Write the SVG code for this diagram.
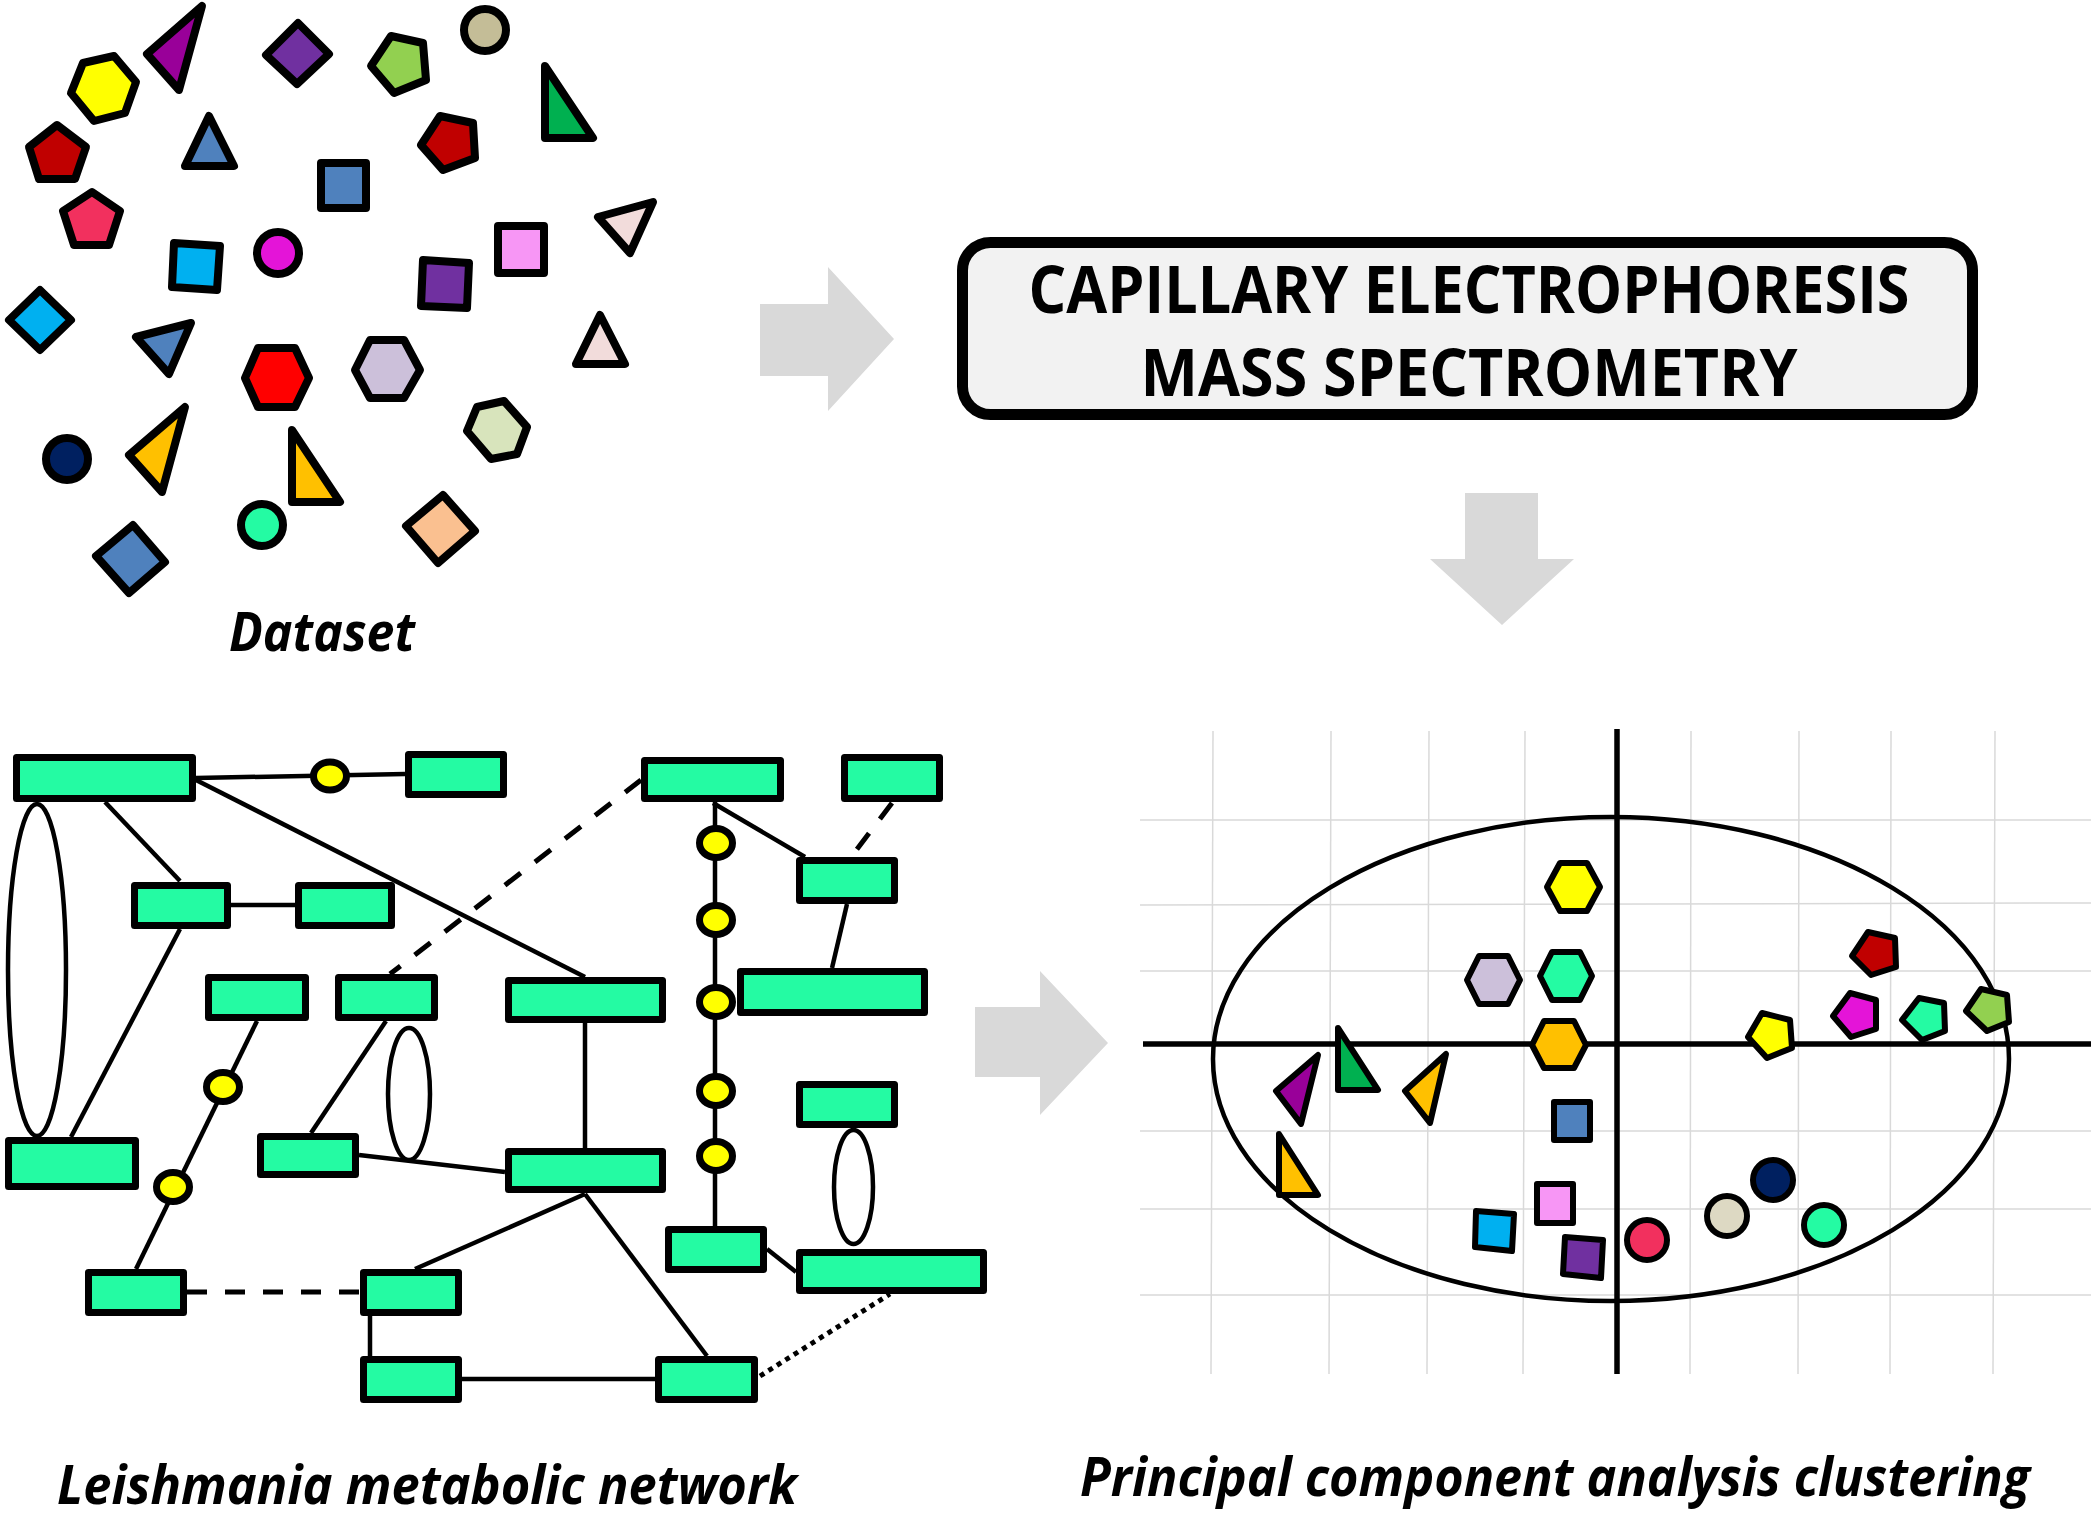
<svg xmlns="http://www.w3.org/2000/svg" width="2091" height="1520" viewBox="0 0 2091 1520">
<style>
.s{stroke:#000;stroke-width:8;stroke-linejoin:round}
.p{stroke:#000;stroke-width:6;stroke-linejoin:round}
.box{fill:#24FBA3;stroke:#000;stroke-width:7;stroke-linejoin:round}
.met{fill:#FFFF00;stroke:#000;stroke-width:7}
.ln{stroke:#000;stroke-width:4.5;fill:none}
.dash{stroke-dasharray:20 18;stroke-width:5}
.dot{stroke-dasharray:5 5;stroke-width:5}
.grid{stroke:#D9D9D9;stroke-width:1.5;fill:none}
.axis{stroke:#000;stroke-width:5.5;fill:none}
.arrow{fill:#D9D9D9}
.lbl{font-family:"Open Sans","Liberation Sans",sans-serif;font-weight:bold;font-style:italic;font-size:53px;fill:#000}
.ce{font-family:"Open Sans","Liberation Sans",sans-serif;font-weight:bold;font-size:67px;fill:#000;text-anchor:middle}
</style>
<rect width="2091" height="1520" fill="#fff"/>

<!-- Dataset -->
<g id="dataset">
<polygon class="s" fill="#FFFF00" points="83,63 114,56 136,82 125,113 94,121 71,93"/>
<polygon class="s" fill="#990099" points="147,54 202,6 179,90"/>
<polygon class="s" fill="#C00000" points="29,147 57,125 86,147 75,179 39,179"/>
<polygon class="s" fill="#4F81BD" points="209,116 234,166 185,166"/>
<polygon class="s" fill="#7030A0" points="298,23 329,54 297,84 266,55"/>
<polygon class="s" fill="#92D050" points="391,36 423,43 426,80 394,93 371,66"/>
<circle class="s" fill="#C4BD97" cx="485" cy="30" r="21"/>
<polygon class="s" fill="#00B050" points="545,66 593,138 545,138"/>
<polygon class="s" fill="#C00000" points="440,116 473,123 475,158 443,170 421,145"/>
<rect class="s" fill="#4F81BD" x="321" y="163" width="45" height="45"/>
<polygon class="s" fill="#F2305E" points="92,192 120,211 109,245 74,245 63,211"/>
<polygon class="s" fill="#00B0F0" points="174,243 220,246 217,290 172,287"/>
<circle class="s" fill="#E414D8" cx="278" cy="253" r="21"/>
<polygon class="s" fill="#7030A0" points="423,260 469,263 467,308 421,306"/>
<rect class="s" fill="#F796F5" x="498" y="226" width="46" height="47"/>
<polygon class="s" fill="#F2DCDB" points="598,217 653,202 630,253"/>
<polygon class="s" fill="#00B0F0" points="40,290 71,320 40,350 9,320"/>
<polygon class="s" fill="#4F81BD" points="136,337 191,323 169,374"/>
<polygon class="s" fill="#FF0000" points="258,348 295,348 309,378 295,407 258,407 245,378"/>
<polygon class="s" fill="#CCC0DA" points="370,340 404,340 420,370 404,398 370,398 355,370"/>
<polygon class="s" fill="#F2DCDB" points="600,315 625,364 576,364"/>
<polygon class="s" fill="#D8E4BC" points="477,407 504,401 527,427 517,454 491,459 467,431"/>
<circle class="s" fill="#002060" cx="67" cy="459" r="21"/>
<polygon class="s" fill="#FFC000" points="129,455 185,407 162,492"/>
<polygon class="s" fill="#FFC000" points="292,430 340,502 292,502"/>
<circle class="s" fill="#24FBA3" cx="262" cy="525" r="21"/>
<polygon class="s" fill="#FAC090" points="443,495 475,531 438,563 406,526"/>
<polygon class="s" fill="#4F81BD" points="133,525 165,562 129,593 96,556"/>
<text class="lbl" x="229" y="651" textLength="186" lengthAdjust="spacingAndGlyphs">Dataset</text>
</g>

<!-- Process arrows -->
<g id="arrows">
<polygon class="arrow" points="760,304 828,304 828,267 894,339 828,411 828,376 760,376"/>
<polygon class="arrow" points="1465,493 1538,493 1538,559 1574,559 1502,625 1430,559 1465,559"/>
<polygon class="arrow" points="975,1007 1040,1007 1040,971 1108,1043 1040,1115 1040,1077 975,1077"/>
</g>

<!-- CE-MS box -->
<g id="cems">
<rect x="962.5" y="242.5" width="1010" height="172" rx="28" ry="28" fill="#F2F2F2" stroke="#000" stroke-width="11"/>
<text class="ce" x="1469" y="313" textLength="881" lengthAdjust="spacingAndGlyphs">CAPILLARY ELECTROPHORESIS</text>
<text class="ce" x="1469" y="396" textLength="657" lengthAdjust="spacingAndGlyphs">MASS SPECTROMETRY</text>
</g>

<!-- Network connectors -->
<g id="connectors">
<ellipse class="ln" cx="37" cy="970" rx="29" ry="166"/>
<ellipse class="ln" cx="409" cy="1094" rx="21" ry="66"/>
<ellipse class="ln" cx="853.5" cy="1187" rx="19.5" ry="57"/>
<line class="ln" x1="196" y1="778" x2="405" y2="774"/>
<line class="ln" x1="105" y1="802" x2="180" y2="881"/>
<line class="ln" x1="196" y1="780" x2="585" y2="977"/>
<line class="ln" x1="231" y1="905" x2="295" y2="905"/>
<line class="ln" x1="180" y1="929" x2="71" y2="1137"/>
<line class="ln dash" x1="641" y1="780" x2="390" y2="974"/>
<line class="ln" x1="715" y1="802" x2="715" y2="1226"/>
<line class="ln" x1="713" y1="803" x2="805" y2="857"/>
<line class="ln dash" x1="892" y1="803" x2="851" y2="857"/>
<line class="ln" x1="847" y1="904" x2="832" y2="968"/>
<line class="ln" x1="257" y1="1021" x2="136" y2="1269"/>
<line class="ln" x1="386" y1="1021" x2="311" y2="1133"/>
<line class="ln" x1="359" y1="1155" x2="505" y2="1172"/>
<line class="ln" x1="585" y1="1023" x2="585" y2="1148"/>
<line class="ln" x1="585" y1="1194" x2="415" y2="1269"/>
<line class="ln" x1="585" y1="1194" x2="707" y2="1356"/>
<line class="ln dash" x1="187" y1="1292" x2="360" y2="1292"/>
<line class="ln" x1="370" y1="1316" x2="370" y2="1356"/>
<line class="ln" x1="462" y1="1379" x2="655" y2="1379"/>
<line class="ln dot" x1="760" y1="1376" x2="890" y2="1294"/>
<line class="ln" x1="767" y1="1249" x2="796" y2="1272"/>
</g>

<!-- Network nodes -->
<g id="network">
<rect id="b1" class="box" x="16.5" y="757.5" width="176" height="41"/>
<rect id="b2" class="box" x="408.5" y="754.5" width="95" height="40"/>
<rect id="b3" class="box" x="644.5" y="760.5" width="136" height="38"/>
<rect id="b4" class="box" x="844.5" y="757.5" width="95" height="41"/>
<rect id="b5" class="box" x="134.5" y="885.5" width="93" height="40"/>
<rect id="b6" class="box" x="298.5" y="885.5" width="93" height="40"/>
<rect id="b7" class="box" x="799.5" y="860.5" width="95" height="40"/>
<rect id="b8" class="box" x="208.5" y="977.5" width="97" height="40"/>
<rect id="b9" class="box" x="338.5" y="977.5" width="96" height="40"/>
<rect id="b10" class="box" x="508.5" y="980.5" width="154" height="39"/>
<rect id="b11" class="box" x="740.5" y="971.5" width="184" height="41"/>
<rect id="b12" class="box" x="8.5" y="1140.5" width="127" height="46"/>
<rect id="b13" class="box" x="260.5" y="1136.5" width="95" height="38"/>
<rect id="b14" class="box" x="508.5" y="1151.5" width="154" height="38"/>
<rect id="b15" class="box" x="799.5" y="1084.5" width="95" height="40"/>
<rect id="b16" class="box" x="668.5" y="1229.5" width="95" height="40"/>
<rect id="b17" class="box" x="799.5" y="1252.5" width="184" height="38"/>
<rect id="b18" class="box" x="88.5" y="1272.5" width="95" height="40"/>
<rect id="b19" class="box" x="363.5" y="1272.5" width="95" height="40"/>
<rect id="b20" class="box" x="363.5" y="1359.5" width="95" height="40"/>
<rect id="b21" class="box" x="658.5" y="1359.5" width="96" height="40"/>
<ellipse id="m1" class="met" cx="330" cy="776" rx="16.5" ry="14"/>
<ellipse id="m2" class="met" cx="716" cy="843" rx="16.5" ry="14.5"/>
<ellipse id="m3" class="met" cx="716" cy="920" rx="16.5" ry="14.5"/>
<ellipse id="m4" class="met" cx="716" cy="1002" rx="16.5" ry="14.5"/>
<ellipse id="m5" class="met" cx="716" cy="1091" rx="16.5" ry="14.5"/>
<ellipse id="m6" class="met" cx="716" cy="1156" rx="16.5" ry="14.5"/>
<ellipse id="m7" class="met" cx="223" cy="1087" rx="16.5" ry="14.5"/>
<ellipse id="m8" class="met" cx="173" cy="1187" rx="16.5" ry="14.5"/>
<text class="lbl" x="57" y="1504" textLength="740" lengthAdjust="spacingAndGlyphs">Leishmania metabolic network</text>
</g>

<!-- PCA -->
<g id="pca">
<g class="grid">
<line x1="1213" y1="731" x2="1211" y2="1374"/>
<line x1="1331" y1="731" x2="1329" y2="1374"/>
<line x1="1429" y1="731" x2="1427" y2="1374"/>
<line x1="1525" y1="731" x2="1523" y2="1374"/>
<line x1="1691" y1="731" x2="1690" y2="1374"/>
<line x1="1799" y1="731" x2="1798" y2="1374"/>
<line x1="1891" y1="731" x2="1890" y2="1374"/>
<line x1="1995" y1="731" x2="1993" y2="1374"/>
<line x1="1140" y1="820" x2="2091" y2="820"/>
<line x1="1140" y1="905" x2="2091" y2="903"/>
<line x1="1140" y1="971" x2="2091" y2="971"/>
<line x1="1140" y1="1131" x2="2091" y2="1131"/>
<line x1="1140" y1="1209" x2="2091" y2="1209"/>
<line x1="1140" y1="1295" x2="2091" y2="1295"/>
</g>
<ellipse cx="1611" cy="1059" rx="398" ry="242" fill="none" stroke="#000" stroke-width="4.5"/>
<line class="axis" x1="1617" y1="729" x2="1617" y2="1374"/>
<line class="axis" x1="1143" y1="1044" x2="2091" y2="1044"/>
<polygon class="p" fill="#FFFF00" points="1560,863 1587,863 1600,887 1587,911 1560,911 1547,887"/>
<polygon class="p" fill="#CCC0DA" points="1479,956 1508,956 1520,980 1508,1004 1479,1004 1467,980"/>
<polygon class="p" fill="#24FBA3" points="1552,952 1580,952 1592,976 1580,1000 1552,1000 1540,976"/>
<polygon class="p" fill="#FFC000" points="1544,1021 1574,1021 1586,1045 1574,1068 1544,1068 1532,1045"/>
<rect class="p" fill="#4F81BD" x="1554" y="1102" width="36" height="38"/>
<rect class="p" fill="#F796F5" x="1537" y="1184" width="36" height="39"/>
<polygon class="p" fill="#00B0F0" points="1476,1211 1514,1214 1512,1251 1475,1247"/>
<polygon class="p" fill="#7030A0" points="1565,1237 1603,1240 1601,1278 1563,1274"/>
<circle class="p" fill="#F2305E" cx="1647" cy="1240" r="20"/>
<circle class="p" fill="#DDD9C3" cx="1727" cy="1216" r="20"/>
<circle class="p" fill="#002060" cx="1773" cy="1180" r="20"/>
<circle class="p" fill="#24FBA3" cx="1824" cy="1225" r="20"/>
<polygon class="p" fill="#FFFF00" points="1762,1013 1790,1020 1792,1048 1767,1058 1748,1037"/>
<polygon class="p" fill="#C00000" points="1868,932 1895,938 1896,967 1871,975 1852,956"/>
<polygon class="p" fill="#E414D8" points="1850,993 1876,1000 1876,1029 1851,1037 1833,1016"/>
<polygon class="p" fill="#24FBA3" points="1919,998 1944,1003 1945,1031 1922,1040 1902,1020"/>
<polygon class="p" fill="#92D050" points="1981,989 2007,995 2009,1022 1987,1031 1966,1011"/>
<polygon class="p" fill="#990099" points="1276,1091 1318,1055 1301,1124"/>
<polygon class="p" fill="#00B050" points="1338,1028 1378,1090 1338,1090"/>
<polygon class="p" fill="#FFC000" points="1405,1091 1446,1054 1430,1123"/>
<polygon class="p" fill="#FFC000" points="1279,1134 1318,1195 1279,1195"/>
<text class="lbl" x="1080" y="1496" textLength="950" lengthAdjust="spacingAndGlyphs">Principal component analysis clustering</text>
</g>
</svg>
